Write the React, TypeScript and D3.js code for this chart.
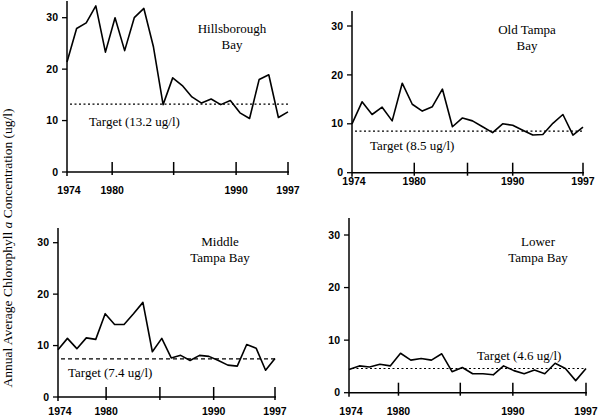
import React from 'react';
import * as d3 from 'd3';

// years on the x axis
const years = d3.range(1974, 1998);

// annual average chlorophyll a (ug/l)
const hillsborough = [21.4, 27.9, 29, 32.3, 23.3, 30, 23.6, 30, 31.8, 24.3, 13.1, 18.3, 16.8, 14.6, 13.4, 14.2, 13.1, 13.9, 11.5, 10.4, 18, 18.9, 10.6, 11.7];
const oldTampa = [10, 14.5, 11.9, 13.4, 10.6, 18.3, 14, 12.6, 13.5, 17.1, 9.4, 11.2, 10.6, 9.4, 8.2, 10, 9.7, 8.7, 7.7, 7.8, 10.1, 11.9, 7.7, 9.3];
const middleTampa = [9.2, 11.4, 9.4, 11.5, 11.2, 16.2, 14.1, 14.1, 16.2, 18.4, 8.8, 11.4, 7.6, 8.1, 7.1, 8.1, 7.9, 7.1, 6.2, 6, 10.2, 9.5, 5.2, 7.5];
const lowerTampa = [4.4, 5.1, 4.9, 5.4, 5.1, 7.5, 6.2, 6.5, 6.2, 7.4, 4, 4.8, 3.6, 3.6, 3.4, 5.1, 4.2, 3.6, 4.3, 3.6, 5.6, 4.6, 2.3, 4.6];

const targets = [13.2, 8.5, 7.4, 4.6];
const titles = [['Hillsborough', 'Bay'], ['Old Tampa', 'Bay'], ['Middle', 'Tampa Bay'], ['Lower', 'Tampa Bay']];
const yTicks = [0, 10, 20, 30];
const xTickLabels = ['1980', '', '1990', '1997'];
// the printed tick marks don't sit exactly on the years
const xTickYears = [
  [1978.7, 1985.1, 1991.6, 1997],
  [1980.2, 1985.5, 1990, 1997],
  [1979.1, 1984.8, 1990.5, 1997],
  [1978.8, 1984.8, 1989.9, 1997],
];

const series = [hillsborough, oldTampa, middleTampa, lowerTampa];

// panel placement in the 600x418 frame
const layout = [
  {x0: 67, x1: 288, y0: 172, y30: 17.7, top: 1, labDy: 22, title: [232, 33], target: [89, 126], dash: '2,2.5'},
  {x0: 352, x1: 583, y0: 172.7, y30: 26, top: 11, labDy: 12, title: [527, 34], target: [370, 150], dash: '2,2.5'},
  {x0: 58, x1: 275, y0: 397, y30: 242.7, top: 228, labDy: 18, title: [220, 246], target: [68, 377], dash: '4,3'},
  {x0: 349, x1: 586, y0: 392.7, y30: 235, top: 218, labDy: 22, title: [538, 246], target: [477, 360], dash: '2,2.5'},
];

const tickFont = '"Liberation Sans", Arial, sans-serif';
const serif = '"Liberation Serif", "Times New Roman", serif';

const Panel = ({i}: {i: number}) => {
  const L = layout[i];
  const x = d3.scaleLinear().domain([1974, 1997]).range([L.x0, L.x1]);
  const y = d3.scaleLinear().domain([0, 30]).range([L.y0, L.y30]);
  const path = d3.line<number>()
    .x((d, k) => x(years[k]))
    .y(d => y(d))(series[i]);

  return (
    <g clipPath={i === 0 ? 'url(#clipLeft)' : undefined}>
      {/* axes */}
      <line x1={L.x0} x2={L.x0} y1={L.top} y2={L.y0 + 4} stroke="#000" strokeWidth={1.5} />
      <line x1={L.x0} x2={L.x1 + 1} y1={L.y0} y2={L.y0} stroke="#000" strokeWidth={1.5} />
      {yTicks.map(t => (
        <g key={t}>
          <line x1={L.x0 - 5} x2={L.x0} y1={y(t)} y2={y(t)} stroke="#000" strokeWidth={1.3} />
          <text x={L.x0 - 9} y={y(t)} dy="0.35em" textAnchor="end"
            fontFamily={tickFont} fontWeight="bold" fontSize={10.5}>{t}</text>
        </g>
      ))}
      {xTickYears[i].map((t, k) => (
        <g key={k}>
          <line x1={x(t)} x2={x(t)} y1={L.y0 - 10} y2={L.y0 + 3} stroke="#000" strokeWidth={1.5} />
          <text x={x(t)} y={L.y0 + L.labDy} textAnchor="middle"
            fontFamily={tickFont} fontWeight="bold" fontSize={10.5}>{xTickLabels[k]}</text>
        </g>
      ))}
      <text x={x(1974) + 2} y={L.y0 + L.labDy} textAnchor="middle"
        fontFamily={tickFont} fontWeight="bold" fontSize={10.5}>1974</text>

      {/* target */}
      <line x1={L.x0 + 3} x2={L.x1} y1={y(targets[i])} y2={y(targets[i])}
        stroke="#000" strokeWidth={1.2} strokeDasharray={L.dash} />
      <text x={L.target[0]} y={L.target[1]} fontFamily={serif} fontSize={13}>
        {`Target (${targets[i]} ug/l)`}
      </text>

      {/* series */}
      <path d={path || ''} fill="none" stroke="#000" strokeWidth={1.6} strokeLinejoin="round" />

      {/* title */}
      <text x={L.title[0]} y={L.title[1]} textAnchor="middle" fontFamily={serif} fontSize={13}>
        <tspan x={L.title[0]}>{titles[i][0]}</tspan>
        <tspan x={L.title[0]} dy={15.5}>{titles[i][1]}</tspan>
      </text>
    </g>
  );
};

export default function App() {
  return (
    <svg width={600} height={418} style={{position: 'fixed', left: 0, top: 0, background: '#fff'}}>
      <defs>
        <clipPath id="clipLeft">
          <rect x={0} y={0} width={300} height={210} />
        </clipPath>
      </defs>
      <rect width={600} height={418} fill="#fff" />
      {[0, 1, 2, 3].map(i => <Panel key={i} i={i} />)}
      <text transform="translate(12,248) rotate(-90)" textAnchor="middle" fontFamily={serif} fontSize={13.5}>
        Annual Average Chlorophyll <tspan fontStyle="italic">a</tspan> Concentration (ug/l)
      </text>
    </svg>
  );
}
